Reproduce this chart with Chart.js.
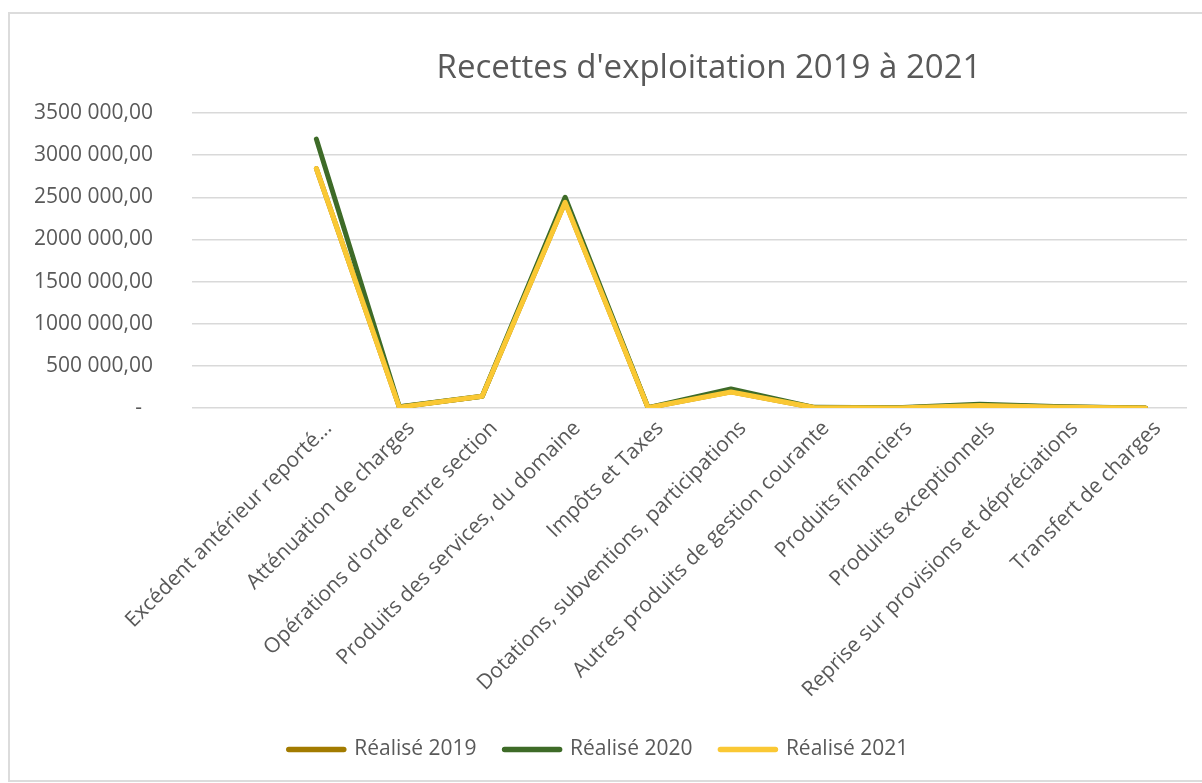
<!DOCTYPE html>
<html lang="fr">
<head>
<meta charset="utf-8">
<title>Recettes d'exploitation 2019 à 2021</title>
<script src="https://cdn.jsdelivr.net/npm/chart.js@4.4.1/dist/chart.umd.min.js"></script>
<style>
html,body{margin:0;padding:0;background:#fff;overflow:hidden;}
#frame{position:absolute;left:8px;top:12px;width:1400px;height:770px;border:2px solid #dcdcdc;box-sizing:border-box;background:#fff;}
#wrap{position:absolute;left:0;top:0;width:1188px;height:766px;}
</style>
</head>
<body>
<div id="frame"><div id="wrap"><canvas id="recettes"></canvas></div></div>
<script>
const TITLE = "Recettes d'exploitation 2019 à 2021";

// first slot is an empty category, as in the source sheet
const categories = ["", "Excédent antérieur reporté...", "Atténuation de charges", "Opérations d'ordre entre section",
  "Produits des services, du domaine", "Impôts et Taxes", "Dotations, subventions, participations",
  "Autres produits de gestion courante", "Produits financiers", "Produits exceptionnels",
  "Reprise sur provisions et dépréciations", "Transfert de charges"];

const realise2019 = [null, 2840000, 12000, 138000, 2445000, 4000, 192000, 6000, 1000, 32000, 11000, 0];
const realise2020 = [null, 3190000, 15000, 140000, 2500000, 5000, 225000, 8000, 2000, 45000, 15000, 0];
const realise2021 = [null, 2840000, 10000, 140000, 2440000, 3000, 190000, 5000, 1000, 30000, 10000, 0];

const yTickLabels = ["-  ", "500 000,00", "1000 000,00", "1500 000,00", "2000 000,00", "2500 000,00", "3000 000,00", "3500 000,00"];

const TEXT = "#595959", GRID = "#d9d9d9";
const FONT = '"Open Sans", "Noto Sans", sans-serif';

Chart.defaults.font.family = FONT;
Chart.defaults.color = TEXT;

// later years are painted over earlier ones (lower order = drawn on top)
function lineSet(label, data, color, order){
  return { label, data, order, borderColor: color, backgroundColor: color, borderWidth: 5,
    borderCapStyle: "round", borderJoinStyle: "round", pointRadius: 0, tension: 0 };
}

const titlePlugin = {
  id: "chartTitle",
  afterDraw(chart){
    const ctx = chart.ctx;
    ctx.save();
    ctx.font = "33px " + FONT;
    ctx.fillStyle = TEXT;
    ctx.textAlign = "center";
    ctx.textBaseline = "alphabetic";
    ctx.fillText(TITLE, chart.chartArea.left + 517, 64);
    ctx.restore();
  }
};

new Chart(document.getElementById("recettes"), {
  type: "line",
  data: { labels: categories, datasets: [
    lineSet("Réalisé 2019", realise2019, "#a27b00", 2),
    lineSet("Réalisé 2020", realise2020, "#3e6b28", 1),
    lineSet("Réalisé 2021", realise2021, "#fac834", 0)
  ]},
  plugins: [titlePlugin],
  options: {
    responsive: true, maintainAspectRatio: false, animation: false,
    layout: { padding: { top: 99, left: 0, right: 11, bottom: 10 } },
    plugins: {
      title: { display: false },
      tooltip: { enabled: false },
      legend: { position: "bottom",
        labels: { usePointStyle: true, pointStyle: "line", pointStyleWidth: 55, padding: 28,
          color: TEXT, font: { size: 21 },
          sort: (a, b) => a.datasetIndex - b.datasetIndex,
          generateLabels(chart){
            return Chart.defaults.plugins.legend.labels.generateLabels(chart)
              .map(item => Object.assign(item, { lineWidth: 5.5, lineCap: "round" }));
          } } }
    },
    scales: {
      x: { offset: true,
        grid: { display: false, drawTicks: false }, border: { display: false },
        ticks: { autoSkip: false, minRotation: 45, maxRotation: 45, padding: 8, labelOffset: 12,
          font: { size: 21 }, color: TEXT },
        afterFit(s){ s.height = 303; } },
      y: { min: 0, max: 3500000,
        grid: { color: GRID, lineWidth: 1.5, drawTicks: false }, border: { display: false },
        ticks: { stepSize: 500000, padding: 39, font: { size: 21 }, color: TEXT,
          callback: (v, i) => yTickLabels[i] },
        afterFit(s){ s.width = 182; } }
    }
  }
});
</script>
</body>
</html>
